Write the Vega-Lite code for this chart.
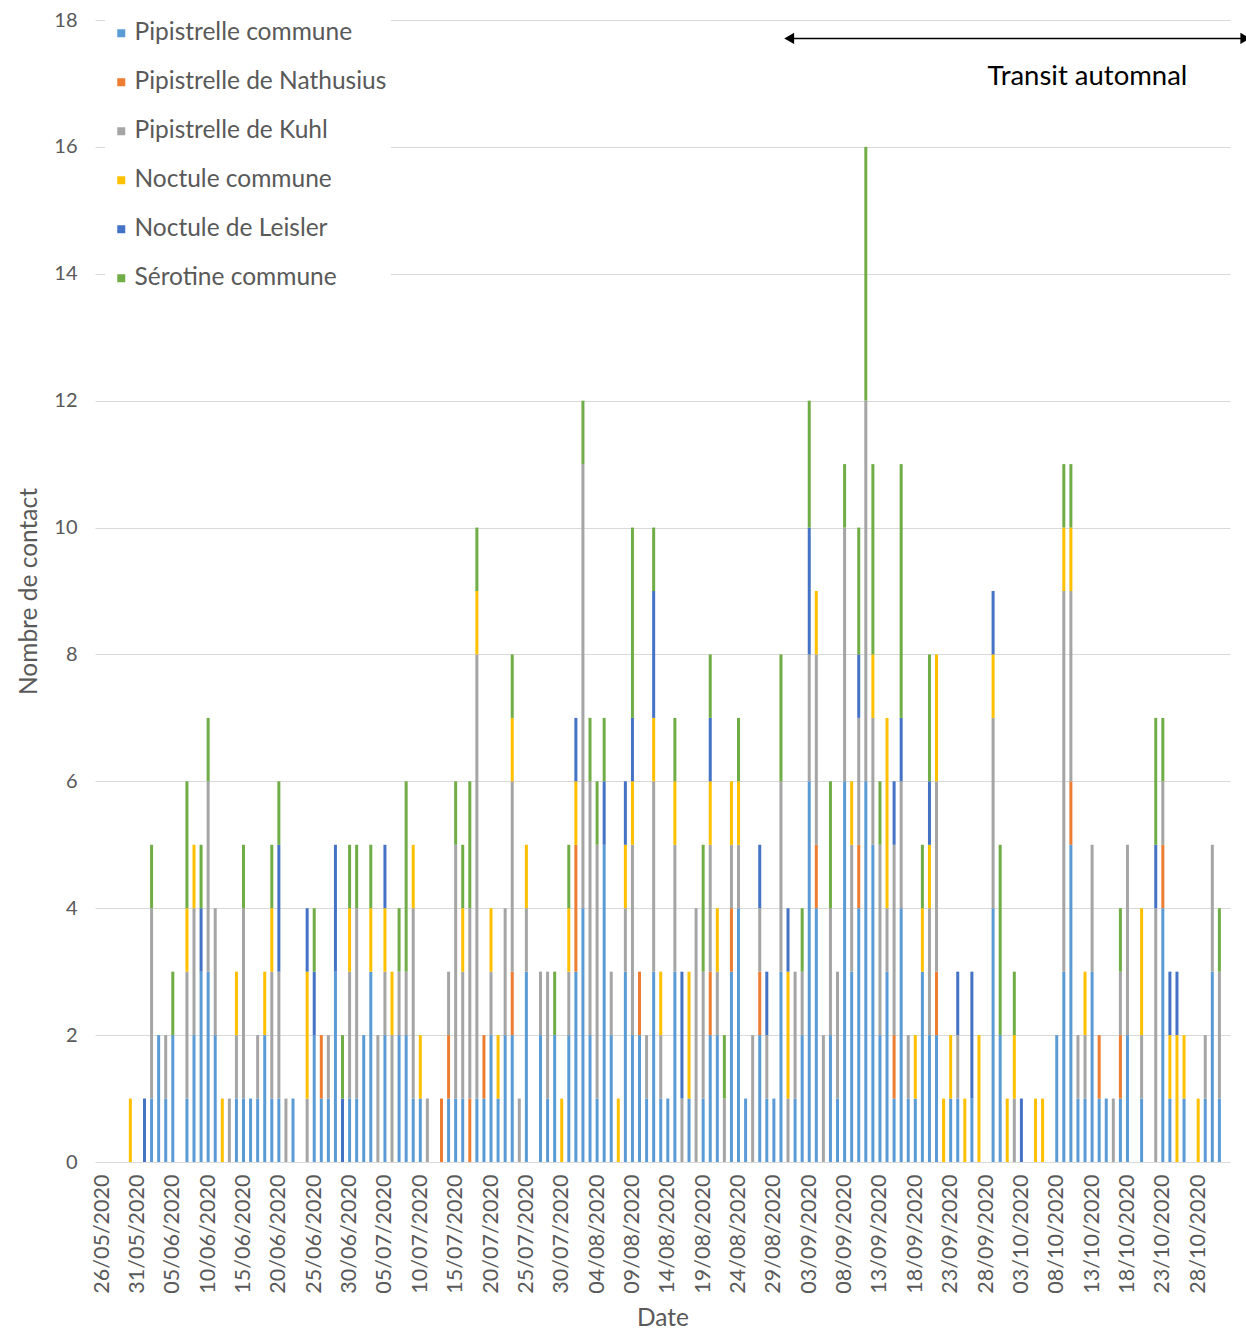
{
  "$schema": "https://vega.github.io/schema/vega-lite/v6.json",
  "autosize": "none",
  "width": 1135,
  "height": 1142,
  "padding": {"left": 95, "top": 20, "right": 16, "bottom": 169},
  "background": "white",
  "config": {
    "view": {"stroke": null},
    "font": "Lato",
    "axis": {"labelFont": "Lato", "titleFont": "Lato", "labelColor": "#595959", "titleColor": "#595959", "titleFontWeight": "normal", "labelOverlap": false},
    "legend": {"labelFont": "Lato"}
  },
  "datasets": {
    "counts": [
      {"d":"2020-05-30","NC":1},
      {"d":"2020-06-01","NL":1},
      {"d":"2020-06-02","PC":1,"PK":3,"SC":1},
      {"d":"2020-06-03","PC":2},
      {"d":"2020-06-04","PC":1,"PK":1},
      {"d":"2020-06-05","PC":2,"SC":1},
      {"d":"2020-06-07","PC":1,"PK":2,"NC":1,"SC":2},
      {"d":"2020-06-08","PC":2,"PK":2,"NC":1},
      {"d":"2020-06-09","PC":3,"NL":1,"SC":1},
      {"d":"2020-06-10","PC":3,"PK":3,"SC":1},
      {"d":"2020-06-11","PC":2,"PK":2},
      {"d":"2020-06-12","NC":1},
      {"d":"2020-06-13","PK":1},
      {"d":"2020-06-14","PC":1,"PK":1,"NC":1},
      {"d":"2020-06-15","PC":1,"PK":3,"SC":1},
      {"d":"2020-06-16","PC":1},
      {"d":"2020-06-17","PC":1,"PK":1},
      {"d":"2020-06-18","PC":2,"NC":1},
      {"d":"2020-06-19","PC":1,"PK":2,"NC":1,"SC":1},
      {"d":"2020-06-20","PC":1,"PK":2,"NL":2,"SC":1},
      {"d":"2020-06-21","PK":1},
      {"d":"2020-06-22","PC":1},
      {"d":"2020-06-24","PK":1,"NC":2,"NL":1},
      {"d":"2020-06-25","PC":2,"NL":1,"SC":1},
      {"d":"2020-06-26","PC":1,"PN":1},
      {"d":"2020-06-27","PC":1,"PK":1},
      {"d":"2020-06-28","PC":3,"NL":2},
      {"d":"2020-06-29","NL":1,"SC":1},
      {"d":"2020-06-30","PC":1,"PK":2,"NC":1,"SC":1},
      {"d":"2020-07-01","PC":1,"PK":3,"SC":1},
      {"d":"2020-07-02","PC":2},
      {"d":"2020-07-03","PC":3,"NC":1,"SC":1},
      {"d":"2020-07-04","PK":2},
      {"d":"2020-07-05","PC":2,"PK":1,"NC":1,"NL":1},
      {"d":"2020-07-06","PK":2,"NC":1},
      {"d":"2020-07-07","PC":2,"PK":1,"SC":1},
      {"d":"2020-07-08","PC":2,"PK":1,"SC":3},
      {"d":"2020-07-09","PC":1,"PK":3,"NC":1},
      {"d":"2020-07-10","PC":1,"NC":1},
      {"d":"2020-07-11","PK":1},
      {"d":"2020-07-13","PN":1},
      {"d":"2020-07-14","PC":1,"PN":1,"PK":1},
      {"d":"2020-07-15","PC":1,"PK":4,"SC":1},
      {"d":"2020-07-16","PC":1,"PK":2,"NC":1,"SC":1},
      {"d":"2020-07-17","PN":1,"PK":3,"SC":2},
      {"d":"2020-07-18","PC":1,"PK":7,"NC":1,"SC":1},
      {"d":"2020-07-19","PC":1,"PN":1},
      {"d":"2020-07-20","PC":2,"PK":1,"NC":1},
      {"d":"2020-07-21","PC":1,"NC":1},
      {"d":"2020-07-22","PC":2,"PK":2},
      {"d":"2020-07-23","PC":2,"PN":1,"PK":3,"NC":1,"SC":1},
      {"d":"2020-07-24","PK":1},
      {"d":"2020-07-25","PC":3,"PK":1,"NC":1},
      {"d":"2020-07-27","PC":2,"PK":1},
      {"d":"2020-07-28","PC":1,"PK":2},
      {"d":"2020-07-29","PC":2,"SC":1},
      {"d":"2020-07-30","NC":1},
      {"d":"2020-07-31","PC":2,"PK":1,"NC":1,"SC":1},
      {"d":"2020-08-01","PC":3,"PN":2,"NC":1,"NL":1},
      {"d":"2020-08-02","PC":4,"PK":7,"SC":1},
      {"d":"2020-08-03","PC":2,"PK":4,"SC":1},
      {"d":"2020-08-04","PC":1,"PK":4,"SC":1},
      {"d":"2020-08-05","PC":5,"NL":1,"SC":1},
      {"d":"2020-08-06","PC":2,"PK":1},
      {"d":"2020-08-07","NC":1},
      {"d":"2020-08-08","PC":3,"PK":1,"NC":1,"NL":1},
      {"d":"2020-08-09","PC":2,"PK":3,"NC":1,"NL":1,"SC":3},
      {"d":"2020-08-10","PC":2,"PN":1},
      {"d":"2020-08-11","PC":1,"PK":1},
      {"d":"2020-08-12","PC":3,"PK":3,"NC":1,"NL":2,"SC":1},
      {"d":"2020-08-13","PC":1,"PK":1,"NC":1},
      {"d":"2020-08-14","PC":1},
      {"d":"2020-08-15","PC":3,"PK":2,"NC":1,"SC":1},
      {"d":"2020-08-16","PK":1,"NL":2},
      {"d":"2020-08-17","PC":1,"NC":2},
      {"d":"2020-08-18","PK":4},
      {"d":"2020-08-19","PC":1,"PK":2,"SC":2},
      {"d":"2020-08-20","PC":2,"PN":1,"PK":2,"NC":1,"NL":1,"SC":1},
      {"d":"2020-08-21","PC":2,"PK":1,"NC":1},
      {"d":"2020-08-22","PK":1,"SC":1},
      {"d":"2020-08-23","PC":3,"PN":1,"PK":1,"NC":1},
      {"d":"2020-08-24","PC":4,"PK":1,"NC":1,"SC":1},
      {"d":"2020-08-25","PC":1},
      {"d":"2020-08-26","PK":2},
      {"d":"2020-08-27","PC":2,"PN":1,"PK":1,"NL":1},
      {"d":"2020-08-28","PC":1,"PK":1,"NL":1},
      {"d":"2020-08-29","PC":1},
      {"d":"2020-08-30","PC":3,"PK":3,"SC":2},
      {"d":"2020-08-31","PK":1,"NC":2,"NL":1},
      {"d":"2020-09-01","PC":1,"PK":2},
      {"d":"2020-09-02","PC":2,"PK":1,"SC":1},
      {"d":"2020-09-03","PC":6,"PK":2,"NL":2,"SC":2},
      {"d":"2020-09-04","PC":4,"PN":1,"PK":3,"NC":1},
      {"d":"2020-09-05","PK":2},
      {"d":"2020-09-06","PC":2,"PK":2,"SC":2},
      {"d":"2020-09-07","PC":1,"PK":2},
      {"d":"2020-09-08","PC":6,"PK":4,"SC":1},
      {"d":"2020-09-09","PC":3,"PK":2,"NC":1},
      {"d":"2020-09-10","PC":4,"PN":1,"PK":2,"NL":1,"SC":2},
      {"d":"2020-09-11","PC":6,"PK":6,"SC":4},
      {"d":"2020-09-12","PC":5,"PK":2,"NC":1,"SC":3},
      {"d":"2020-09-13","PC":2,"PK":3,"SC":1},
      {"d":"2020-09-14","PC":3,"PK":1,"NC":3},
      {"d":"2020-09-15","PC":1,"PN":1,"PK":3,"NL":1},
      {"d":"2020-09-16","PC":4,"PK":2,"NL":1,"SC":4},
      {"d":"2020-09-17","PC":1,"PK":1},
      {"d":"2020-09-18","PC":1,"NC":1},
      {"d":"2020-09-19","PC":3,"NC":1,"SC":1},
      {"d":"2020-09-20","PC":2,"PK":2,"NC":1,"NL":1,"SC":2},
      {"d":"2020-09-21","PC":2,"PN":1,"PK":3,"NC":2},
      {"d":"2020-09-22","NC":1},
      {"d":"2020-09-23","PC":1,"NC":1},
      {"d":"2020-09-24","PC":1,"PK":1,"NL":1},
      {"d":"2020-09-25","NC":1},
      {"d":"2020-09-26","PC":1,"NL":2},
      {"d":"2020-09-27","NC":2},
      {"d":"2020-09-29","PC":4,"PK":3,"NC":1,"NL":1},
      {"d":"2020-09-30","PC":2,"SC":3},
      {"d":"2020-10-01","NC":1},
      {"d":"2020-10-02","PK":1,"NC":1,"SC":1},
      {"d":"2020-10-03","NL":1},
      {"d":"2020-10-05","NC":1},
      {"d":"2020-10-06","NC":1},
      {"d":"2020-10-08","PC":2},
      {"d":"2020-10-09","PC":3,"PK":6,"NC":1,"SC":1},
      {"d":"2020-10-10","PC":5,"PN":1,"PK":3,"NC":1,"SC":1},
      {"d":"2020-10-11","PC":1,"PK":1},
      {"d":"2020-10-12","PC":1,"PK":1,"NC":1},
      {"d":"2020-10-13","PC":3,"PK":2},
      {"d":"2020-10-14","PC":1,"PN":1},
      {"d":"2020-10-15","PC":1},
      {"d":"2020-10-16","PK":1},
      {"d":"2020-10-17","PC":1,"PN":1,"PK":1,"SC":1},
      {"d":"2020-10-18","PC":2,"PK":3},
      {"d":"2020-10-20","PC":1,"PK":1,"NC":2},
      {"d":"2020-10-22","PK":4,"NL":1,"SC":2},
      {"d":"2020-10-23","PC":4,"PN":1,"PK":1,"SC":1},
      {"d":"2020-10-24","PC":1,"NC":1,"NL":1},
      {"d":"2020-10-25","NC":2,"NL":1},
      {"d":"2020-10-26","PC":1,"NC":1},
      {"d":"2020-10-28","NC":1},
      {"d":"2020-10-29","PC":1,"PK":1},
      {"d":"2020-10-30","PC":3,"PK":2},
      {"d":"2020-10-31","PC":1,"PK":2,"SC":1}
    ],
    "species": [
      {"code":"PC","species":"Pipistrelle commune","rank":1},
      {"code":"PN","species":"Pipistrelle de Nathusius","rank":2},
      {"code":"PK","species":"Pipistrelle de Kuhl","rank":3},
      {"code":"NC","species":"Noctule commune","rank":4},
      {"code":"NL","species":"Noctule de Leisler","rank":5},
      {"code":"SC","species":"Sérotine commune","rank":6}
    ]
  },
  "layer": [
    {
      "data": {"name": "counts"},
      "transform": [
        {"fold": ["PC","PN","PK","NC","NL","SC"], "as": ["s","n"]},
        {"filter": "datum.n > 0"},
        {"lookup": "s", "from": {"data": {"name": "species"}, "key": "code", "fields": ["species","rank"]}}
      ],
      "mark": {"type": "bar", "size": 3},
      "encoding": {
        "x": {
          "field": "d", "type": "temporal", "title": "Date",
          "scale": {"type": "utc", "nice": false, "padding": 0, "domain": [{"year":2020,"month":5,"date":25,"utc":true},{"year":2020,"month":11,"date":1,"hours":12,"utc":true}]},
          "axis": {
            "titleFontSize": 24.5, "titlePadding": 13,
            "format": "%d/%m/%Y", "labelAngle": -90, "labelFontSize": 21.5, "labelPadding": 12,
            "ticks": false, "domain": false, "grid": false, "labelOverlap": false, "labelFlush": false, "labelBound": false,
            "tickCount": 100,
            "values": [
              {"year":2020,"month":5,"date":26,"utc":true},{"year":2020,"month":5,"date":31,"utc":true},
              {"year":2020,"month":6,"date":5,"utc":true},{"year":2020,"month":6,"date":10,"utc":true},
              {"year":2020,"month":6,"date":15,"utc":true},{"year":2020,"month":6,"date":20,"utc":true},
              {"year":2020,"month":6,"date":25,"utc":true},{"year":2020,"month":6,"date":30,"utc":true},
              {"year":2020,"month":7,"date":5,"utc":true},{"year":2020,"month":7,"date":10,"utc":true},
              {"year":2020,"month":7,"date":15,"utc":true},{"year":2020,"month":7,"date":20,"utc":true},
              {"year":2020,"month":7,"date":25,"utc":true},{"year":2020,"month":7,"date":30,"utc":true},
              {"year":2020,"month":8,"date":4,"utc":true},{"year":2020,"month":8,"date":9,"utc":true},
              {"year":2020,"month":8,"date":14,"utc":true},{"year":2020,"month":8,"date":19,"utc":true},
              {"year":2020,"month":8,"date":24,"utc":true},{"year":2020,"month":8,"date":29,"utc":true},
              {"year":2020,"month":9,"date":3,"utc":true},{"year":2020,"month":9,"date":8,"utc":true},
              {"year":2020,"month":9,"date":13,"utc":true},{"year":2020,"month":9,"date":18,"utc":true},
              {"year":2020,"month":9,"date":23,"utc":true},{"year":2020,"month":9,"date":28,"utc":true},
              {"year":2020,"month":10,"date":3,"utc":true},{"year":2020,"month":10,"date":8,"utc":true},
              {"year":2020,"month":10,"date":13,"utc":true},{"year":2020,"month":10,"date":18,"utc":true},
              {"year":2020,"month":10,"date":23,"utc":true},{"year":2020,"month":10,"date":28,"utc":true}
            ]
          }
        },
        "y": {
          "aggregate": "sum", "field": "n", "type": "quantitative", "title": "Nombre de contact",
          "scale": {"domain": [0, 18], "nice": false},
          "axis": {
            "titleFontSize": 24.5, "titlePadding": 12, "format": "d",
            "values": [0,2,4,6,8,10,12,14,16,18], "labelFontSize": 20, "labelPadding": 18,
            "ticks": false, "domain": false, "grid": true, "gridColor": "#d9d9d9", "gridWidth": 1.2
          }
        },
        "color": {
          "field": "species", "type": "nominal",
          "scale": {
            "domain": ["Pipistrelle commune","Pipistrelle de Nathusius","Pipistrelle de Kuhl","Noctule commune","Noctule de Leisler","Sérotine commune"],
            "range": ["#5B9BD5","#ED7D31","#A5A5A5","#FFC000","#4472C4","#70AD47"]
          },
          "legend": {
            "title": null, "orient": "none", "legendX": 10, "legendY": -3,
            "fillColor": "white", "padding": 4, "symbolType": "square", "symbolSize": 64,
            "symbolStrokeWidth": 0, "labelFontSize": 24.5, "labelColor": "#595959",
            "labelOffset": 1, "rowPadding": 24, "labelLimit": 400
          }
        },
        "order": {"field": "rank", "type": "quantitative", "sort": "ascending"}
      }
    },
    {
      "data": {"values": [{"start": "2020-08-31T04:00:00Z", "end": "2020-11-03T16:00:00Z", "y": 17.71}]},
      "mark": {"type": "rule", "color": "black", "strokeWidth": 1.5},
      "encoding": {
        "x": {"field": "start", "type": "temporal", "title": "Date"},
        "x2": {"field": "end"},
        "y": {"field": "y", "type": "quantitative", "title": "Nombre de contact"}
      }
    },
    {
      "data": {"values": [{"t": "2020-08-31T04:00:00Z", "y": 17.71}]},
      "mark": {"type": "point", "shape": "triangle-left", "filled": true, "color": "black", "size": 130, "opacity": 1},
      "encoding": {
        "x": {"field": "t", "type": "temporal", "title": "Date"},
        "y": {"field": "y", "type": "quantitative", "title": "Nombre de contact"}
      }
    },
    {
      "data": {"values": [{"t": "2020-11-03T16:00:00Z", "y": 17.71}]},
      "mark": {"type": "point", "shape": "triangle-right", "filled": true, "color": "black", "size": 130, "opacity": 1},
      "encoding": {
        "x": {"field": "t", "type": "temporal", "title": "Date"},
        "y": {"field": "y", "type": "quantitative", "title": "Nombre de contact"}
      }
    },
    {
      "data": {"values": [{"t": "2020-10-12T08:00:00Z", "y": 16.97, "label": "Transit automnal"}]},
      "mark": {"type": "text", "color": "black", "fontSize": 27.5, "font": "Lato", "align": "center", "baseline": "alphabetic"},
      "encoding": {
        "x": {"field": "t", "type": "temporal", "title": "Date"},
        "y": {"field": "y", "type": "quantitative", "title": "Nombre de contact"},
        "text": {"field": "label"}
      }
    }
  ]
}
